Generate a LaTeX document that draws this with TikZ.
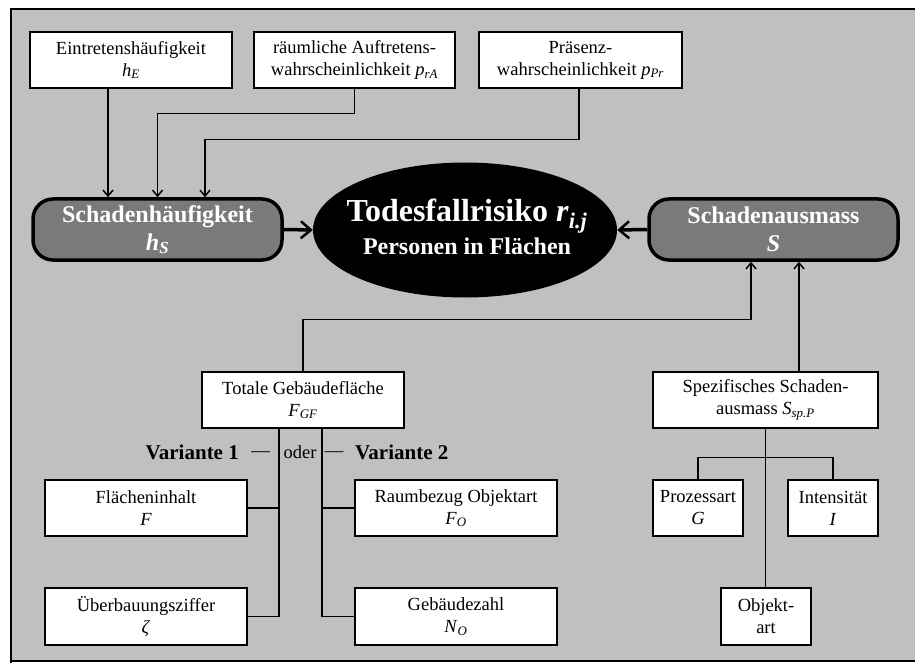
\documentclass[tikz,border=0pt]{standalone}
\usepackage{fontspec}
\setmainfont{Liberation Serif}
\usetikzlibrary{arrows.meta,shapes.geometric}

\definecolor{panel}{HTML}{C0C0C0}
\definecolor{darkbox}{HTML}{7A7A7A}

% italic symbol with italic subscript
\newcommand{\vsym}[2]{\textit{#1}\textsubscript{\textit{#2}}}

\tikzset{
  infobox/.style={draw, fill=white, line width=1.5pt, align=center, inner sep=0pt,
    minimum height=56pt, font=\fontsize{18.5}{22}\selectfont},
  keybox/.style={draw, fill=darkbox, line width=3.5pt, rounded corners=20pt, text=white,
    align=center, inner sep=0pt, minimum width=249pt, minimum height=61pt,
    font=\bfseries\fontsize{24}{28}\selectfont},
  wire/.style={line width=1.5pt},
  arr/.style={wire, -{Straight Barb[length=6pt,width=10pt]}},
  bigarr/.style={line width=3.5pt, -{Straight Barb[length=10pt,width=17pt,line width=2.5pt]}},
  lbl/.style={inner sep=0pt},
}

\begin{document}
\begin{tikzpicture}[x=1pt,y=-1pt]
\useasboundingbox (0,0) rectangle (915,663);
\clip (0,0) rectangle (915,663);

% panel
\fill[panel] (11,9) rectangle (930,661);
\draw[line width=2.5pt] (11,680) -- (11,9) -- (930,9);
\draw[line width=1.5pt] (11,661) -- (930,661);

% input factors
\node[infobox, minimum width=202pt] (E) at (131,60) {Eintretenshäufigkeit\\\vsym{h}{E}};
\node[infobox, minimum width=201pt] (A) at (354.5,60) {räumliche Auftretens-\\wahrscheinlichkeit \vsym{p}{rA}};
\node[infobox, minimum width=203pt] (P) at (580.5,60) {Präsenz-\\wahrscheinlichkeit \vsym{p}{Pr}};

% central part
\node[keybox] (hS) at (157.5,229.5) {Schadenhäufigkeit\\\textit{h}\textsubscript{\textit{S}}};
\node[keybox] (S) at (773.5,229.5) {Schadenausmass\\\textit{S}};
\node[ellipse, fill=black, minimum width=304pt, minimum height=135pt, inner sep=0pt] (R) at (465,230) {};
\node[text=white, align=center, inner sep=0pt] (Rt) at (467,227)
  {{\bfseries\fontsize{32}{36}\selectfont Todesfallrisiko \textit{r}\textsubscript{\textit{i.j}}}\\[4pt]
   {\bfseries\fontsize{24}{28}\selectfont Personen in Flächen}};

% area branch
\node[infobox, minimum width=202pt] (GF) at (303,400) {Totale Gebäudefläche\\\vsym{F}{GF}};
\node[infobox, minimum width=202pt] (Fl) at (146,508) {Flächeninhalt\\\textit{F}};
\node[infobox, minimum width=202pt, minimum height=57pt] (Ub) at (146,616.5) {Überbauungsziffer\\\textit{ζ}};
\node[infobox, minimum width=202pt] (Rb) at (456,508) {Raumbezug Objektart\\\vsym{F}{O}};
\node[infobox, minimum width=202pt, minimum height=57pt] (Gz) at (456,616.5) {Gebäudezahl\\\vsym{N}{O}};

% variant labels
\node[lbl, anchor=east, font=\bfseries\fontsize{21}{24}\selectfont] (v1t) at (239,452) {Variante 1};
\node[lbl, font=\fontsize{18.5}{22}\selectfont] (d1) at (260.5,454) {—};
\node[lbl, font=\fontsize{18.5}{22}\selectfont] (od) at (300,452) {oder};
\node[lbl, font=\fontsize{18.5}{22}\selectfont] (d2) at (334,454) {—};
\node[lbl, anchor=west, font=\bfseries\fontsize{21}{24}\selectfont] (v2t) at (355,452) {Variante 2};

% specific damage branch
\node[infobox, minimum width=225pt] (Sp) at (765.5,400) {Spezifisches Schaden-\\ausmass \vsym{S}{sp.P}};
\node[infobox, minimum width=90pt] (Pz) at (698,508) {Prozessart\\\textit{G}};
\node[infobox, minimum width=90pt] (It) at (833,508) {Intensität\\\textit{I}};
\node[infobox, minimum width=90pt, minimum height=57pt] (Ob) at (766,616.5) {Objekt-\\art};

% connectors into Schadenhäufigkeit
\draw[arr] ([xshift=-49.5pt]hS.north |- E.south) -- ([xshift=-49.5pt]hS.north);
\draw[arr] (A.south) -- ++(0,25) -| (hS.north);
\draw[arr] ([xshift=-1.5pt]P.south) -- ++(0,51) -| ([xshift=47.5pt]hS.north);

% into the risk ellipse
\draw[bigarr] (hS.east) -- (R.west);
\draw[bigarr] (S.west) -- (R.east);

% into Schadenausmass
\draw[arr] (GF.north) -- ++(0,-52) -| ([xshift=-22.5pt]S.south);
\draw[arr] ([xshift=25.5pt]S.south |- Sp.north) -- ([xshift=25.5pt]S.south);

% variant trees
\coordinate (va) at ([xshift=-24pt]GF.south);
\coordinate (vb) at ([xshift=19pt]GF.south);
\draw[wire] (va) |- (Ub.east);
\draw[wire] (Fl.east) -- (Fl.east -| va);
\draw[wire] (vb) |- (Gz.west);
\draw[wire] (Rb.west) -- (Rb.west -| vb);

% specific damage tree
\draw[wire] (Sp.south) -- (Sp.south |- Ob.north);
\draw[wire] (Pz.north) -- ++(0,-22) -| (It.north);
\end{tikzpicture}
\end{document}
